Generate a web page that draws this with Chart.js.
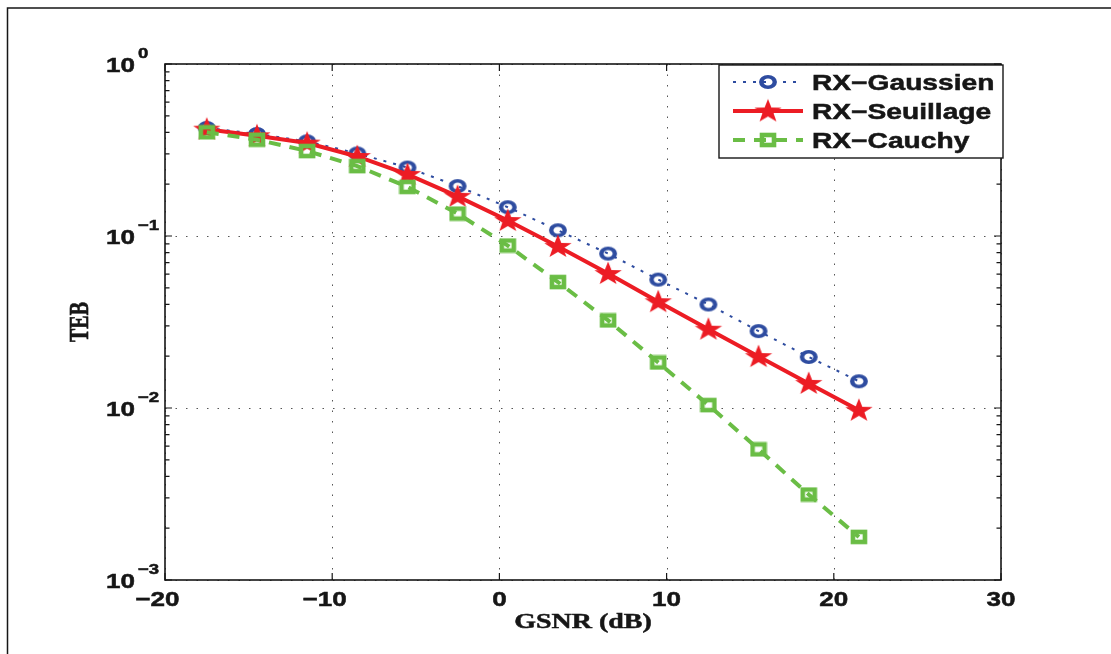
<!DOCTYPE html>
<html>
<head>
<meta charset="utf-8">
<script src="https://cdn.jsdelivr.net/npm/chart.js@4.4.0/dist/chart.umd.min.js"></script>
<style>
  html, body { margin: 0; padding: 0; background: #fff; }
  #wrap { width: 1111px; height: 654px; }
</style>
</head>
<body>
<div id="wrap"><canvas id="teb" width="1111" height="654"></canvas></div>
<script>
// GSNR (dB) at which each receiver was simulated
const gsnr = [-17.5, -14.5, -11.5, -8.5, -5.5, -2.5, 0.5, 3.5, 6.5, 9.5, 12.5, 15.5, 18.5, 21.5];

// TEB (bit error rate)
const tebGaussien  = [0.425, 0.392, 0.355, 0.302, 0.250, 0.195, 0.147, 0.108, 0.079, 0.0558, 0.0400, 0.0280, 0.0198, 0.0143];
const tebSeuillage = [0.418, 0.383, 0.347, 0.290, 0.228, 0.170, 0.123, 0.087, 0.0605, 0.0415, 0.0287, 0.0199, 0.0139, 0.0097];
const tebCauchy    = [0.401, 0.363, 0.312, 0.255, 0.193, 0.135, 0.088, 0.054, 0.0323, 0.0184, 0.0104, 0.00575, 0.00314, 0.00178];

const seriesNames = ['RX\u2212Gaussien', 'RX\u2212Seuillage', 'RX\u2212Cauchy'];
const xTickValues = [-20, -10, 0, 10, 20, 30];
const yTickExponents = [0, -1, -2, -3];
const xTitle = 'GSNR (dB)';
const yTitle = 'TEB';

const BLUE = '#2e4ca0';
const RED = '#ec1c24';
const GREEN = '#6abd45';
const INK = '#161616';

/* ---------- marker images ---------- */
function makeRing(color) {
  const c = document.createElement('canvas');
  c.width = 22; c.height = 18;
  const g = c.getContext('2d');
  g.translate(11, 9);
  g.scale(1.3, 1);
  g.strokeStyle = color;
  g.lineWidth = 3.4;
  g.beginPath();
  g.arc(0, 0, 5.2, 0, Math.PI * 2);
  g.stroke();
  return c;
}

function makeStar(color) {
  const c = document.createElement('canvas');
  c.width = 30; c.height = 27;
  const g = c.getContext('2d');
  g.translate(15, 14);
  g.scale(1.15, 1);
  g.fillStyle = color;
  g.beginPath();
  const R = 12.5, r = 5;
  for (let i = 0; i < 10; i++) {
    const a = -Math.PI / 2 + i * Math.PI / 5;
    const rad = i % 2 === 0 ? R : r;
    const px = Math.cos(a) * rad, py = Math.sin(a) * rad;
    if (i === 0) g.moveTo(px, py); else g.lineTo(px, py);
  }
  g.closePath();
  g.fill();
  return c;
}

function makeSquare(color) {
  const c = document.createElement('canvas');
  c.width = 18; c.height = 16;
  const g = c.getContext('2d');
  g.strokeStyle = color;
  g.lineWidth = 4.6;
  g.strokeRect(3, 3, 12, 10);
  return c;
}

/* ---------- text helper (the source figure is stretched sideways) ---------- */
function stretchedText(ctx, text, x, y, font, align, sx) {
  ctx.save();
  ctx.translate(x, y);
  ctx.scale(sx, 1);
  ctx.font = font;
  ctx.textAlign = align;
  ctx.textBaseline = 'alphabetic';
  ctx.fillText(text, 0, 0);
  // a hairline stroke to get the heavy printed look
  ctx.lineWidth = 0.5;
  ctx.strokeStyle = ctx.fillStyle;
  ctx.strokeText(text, 0, 0);
  ctx.restore();
}

function textWidth(ctx, text, font, sx) {
  ctx.save();
  ctx.font = font;
  const w = ctx.measureText(text).width * sx;
  ctx.restore();
  return w;
}

/* ---------- MATLAB-like axes box, ticks, labels, legend ---------- */
const matlabAxes = {
  id: 'matlabAxes',
  beforeDraw(chart) {
    const ctx = chart.ctx;
    ctx.save();
    ctx.fillStyle = '#fff';
    ctx.fillRect(0, 0, chart.width, chart.height);
    // figure frame (top and left only visible)
    ctx.strokeStyle = INK;
    ctx.lineWidth = 1.5;
    ctx.beginPath();
    ctx.moveTo(7.5, chart.height);
    ctx.lineTo(7.5, 8);
    ctx.lineTo(chart.width, 8);
    ctx.stroke();
    ctx.restore();
  },
  beforeDatasetsDraw(chart) {
    const { ctx, chartArea: a, scales: { x, y } } = chart;
    ctx.save();
    ctx.strokeStyle = '#555';
    ctx.lineWidth = 1;
    ctx.setLineDash([1.5, 9]);
    xTickValues.forEach(v => {
      const px = Math.round(x.getPixelForValue(v)) + 0.5;
      ctx.beginPath(); ctx.moveTo(px, a.bottom); ctx.lineTo(px, a.top); ctx.stroke();
    });
    yTickExponents.forEach(e => {
      const py = Math.round(y.getPixelForValue(Math.pow(10, e))) + 0.5;
      ctx.beginPath(); ctx.moveTo(a.left, py); ctx.lineTo(a.right, py); ctx.stroke();
    });
    ctx.restore();
  },
  afterDatasetsDraw(chart) {
    const { ctx, chartArea: a, scales: { x, y } } = chart;
    ctx.save();
    ctx.strokeStyle = INK;
    ctx.fillStyle = INK;
    ctx.lineWidth = 1.2;

    // ticks
    ctx.beginPath();
    xTickValues.forEach(v => {
      const px = x.getPixelForValue(v);
      ctx.moveTo(px, a.bottom); ctx.lineTo(px, a.bottom - 7);
      ctx.moveTo(px, a.top); ctx.lineTo(px, a.top + 7);
    });
    yTickExponents.forEach(e => {
      const py = y.getPixelForValue(Math.pow(10, e));
      ctx.moveTo(a.left, py); ctx.lineTo(a.left + 7, py);
      ctx.moveTo(a.right, py); ctx.lineTo(a.right - 7, py);
    });
    for (let e = -3; e < 0; e++) {
      for (let m = 2; m <= 9; m++) {
        const py = y.getPixelForValue(m * Math.pow(10, e));
        ctx.moveTo(a.left, py); ctx.lineTo(a.left + 4.5, py);
        ctx.moveTo(a.right, py); ctx.lineTo(a.right - 4.5, py);
      }
    }
    ctx.stroke();

    // axes box
    ctx.lineWidth = 1.6;
    ctx.strokeRect(a.left, a.top, a.right - a.left, a.bottom - a.top);

    // x tick labels: digits centred on the tick, minus hanging to the left
    const tickFont = 'bold 21px "Liberation Sans", Arial, sans-serif';
    const tickSx = 1.24;
    xTickValues.forEach(v => {
      const px = x.getPixelForValue(v);
      const digits = String(Math.abs(v));
      stretchedText(ctx, digits, px, a.bottom + 26, tickFont, 'center', tickSx);
      if (v < 0) {
        const w = textWidth(ctx, digits, tickFont, tickSx);
        stretchedText(ctx, '\u2212', px - w / 2, a.bottom + 26, tickFont, 'right', tickSx);
      }
    });

    // y tick labels 10^e
    const supFont = 'bold 15px "Liberation Sans", Arial, sans-serif';
    yTickExponents.forEach(e => {
      const py = y.getPixelForValue(Math.pow(10, e));
      stretchedText(ctx, '10', a.left - 30, py + 8, tickFont, 'right', tickSx);
      const sup = e < 0 ? '\u2212' + Math.abs(e) : String(e);
      stretchedText(ctx, sup, a.left - 27, py - 6, supFont, 'left', tickSx);
    });

    // axis titles
    stretchedText(ctx, xTitle, (a.left + a.right) / 2, 628,
      'bold 22px "Liberation Serif", "Times New Roman", serif', 'center', 1.27);
    ctx.save();
    ctx.translate(78.5, (a.top + a.bottom) / 2);
    ctx.scale(1.4, 1);
    ctx.rotate(-Math.PI / 2);
    ctx.font = 'bold 20px "Liberation Serif", "Times New Roman", serif';
    ctx.textAlign = 'center';
    ctx.textBaseline = 'alphabetic';
    ctx.fillText(yTitle, 0, 6.6);
    ctx.lineWidth = 0.5;
    ctx.strokeText(yTitle, 0, 6.6);
    ctx.restore();

    // legend box in the top right corner
    const lw = 284, lh = 93;
    const lx = a.right + 2 - lw, ly = a.top + 1;
    ctx.fillStyle = '#fff';
    ctx.fillRect(lx, ly, lw, lh);
    ctx.lineWidth = 1.4;
    ctx.strokeStyle = INK;
    ctx.strokeRect(lx, ly, lw, lh);
    const legendFont = 'bold 22px "Liberation Sans", Arial, sans-serif';
    chart.data.datasets.forEach((ds, i) => {
      const cy = ly + 17 + i * 29;
      ctx.save();
      ctx.strokeStyle = ds.borderColor;
      ctx.lineWidth = ds.borderWidth;
      ctx.setLineDash(ds.borderDash || []);
      ctx.beginPath();
      ctx.moveTo(lx + 14, cy); ctx.lineTo(lx + 84, cy);
      ctx.stroke();
      ctx.restore();
      const img = ds.pointStyle;
      ctx.drawImage(img, lx + 49 - img.width / 2, cy - img.height / 2);
      ctx.fillStyle = INK;
      stretchedText(ctx, ds.label, lx + 93, cy + 7.5, legendFont, 'left', 1.28);
    });
    ctx.restore();
  }
};

const toPoints = vals => gsnr.map((g, i) => ({ x: g, y: vals[i] }));

new Chart(document.getElementById('teb'), {
  type: 'line',
  data: {
    datasets: [
      {
        label: seriesNames[0],
        data: toPoints(tebGaussien),
        borderColor: BLUE,
        borderWidth: 2,
        borderDash: [3, 7],
        pointStyle: makeRing(BLUE),
        pointRadius: 8,
        order: 3,
      },
      {
        label: seriesNames[1],
        data: toPoints(tebSeuillage),
        borderColor: RED,
        borderWidth: 4,
        pointStyle: makeStar(RED),
        pointRadius: 8,
        order: 2,
      },
      {
        label: seriesNames[2],
        data: toPoints(tebCauchy),
        borderColor: GREEN,
        borderWidth: 4,
        borderDash: [12, 9],
        pointStyle: makeSquare(GREEN),
        pointRadius: 8,
        order: 1,
      },
    ]
  },
  options: {
    responsive: false,
    devicePixelRatio: 1,
    animation: false,
    layout: { padding: { left: 0, right: 110, top: 64, bottom: 0 } },
    elements: { line: { tension: 0, fill: false } },
    plugins: {
      legend: { display: false },
      tooltip: { enabled: false },
    },
    scales: {
      x: {
        type: 'linear',
        min: -20,
        max: 30,
        ticks: { display: false, stepSize: 10 },
        grid: { display: false },
        border: { display: false },
        afterFit: (s) => { s.height = 74; },
      },
      y: {
        type: 'logarithmic',
        min: 0.001,
        max: 1,
        ticks: { display: false },
        grid: { display: false },
        border: { display: false },
        afterFit: (s) => { s.width = 165; },
      }
    }
  },
  plugins: [matlabAxes]
});
</script>
</body>
</html>
